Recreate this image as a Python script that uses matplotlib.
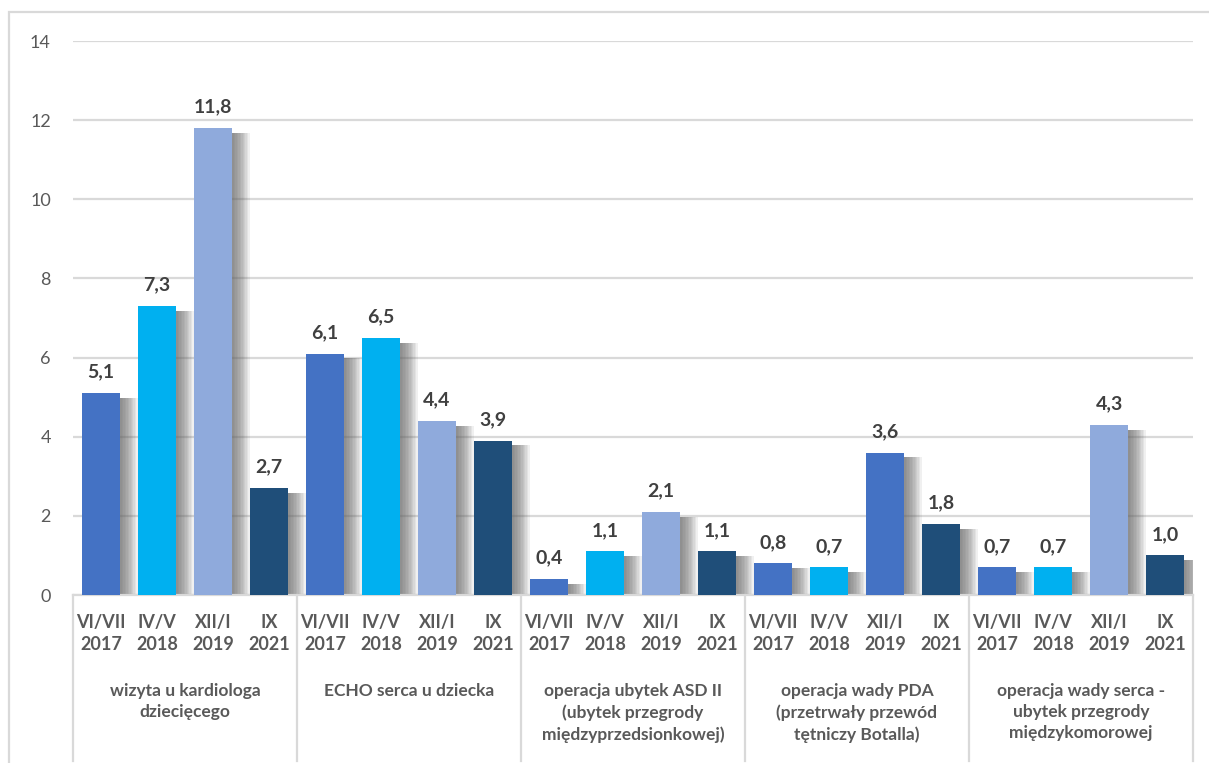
import matplotlib
matplotlib.use("Agg")
import matplotlib.pyplot as plt
from matplotlib.patches import Rectangle
from matplotlib.lines import Line2D
import matplotlib.transforms as mtransforms
import numpy as np

plt.rcParams["font.family"] = ["Lato", "DejaVu Sans"]

# survey waves (x tick labels inside each group)
waves = ["VI/VII\n2017", "IV/V\n2018", "XII/I\n2019", "IX\n2021"]

groups = [
    "wizyta u kardiologa\ndziecięcego",
    "ECHO serca u dziecka",
    "operacja ubytek ASD II\n(ubytek przegrody\nmiędzyprzedsionkowej)",
    "operacja wady PDA\n(przetrwały przewód\ntętniczy Botalla)",
    "operacja wady serca -\nubytek przegrody\nmiędzykomorowej",
]

values = [
    [5.1, 7.3, 11.8, 2.7],
    [6.1, 6.5, 4.4, 3.9],
    [0.4, 1.1, 2.1, 1.1],
    [0.8, 0.7, 3.6, 1.8],
    [0.7, 0.7, 4.3, 1.0],
]

C1, C2, C3, C4 = "#4472C4", "#00B0F0", "#8FAADC", "#1F4E79"
bar_colors = [
    [C1, C2, C3, C4],
    [C1, C2, C3, C4],
    [C1, C2, C3, C4],
    [C1, C2, C1, C4],
    [C1, C2, C3, C4],
]

TXT = "#404040"
AX_TXT = "#595959"
GRID = "#D9D9D9"

W, H = 1209, 763
fig = plt.figure(figsize=(W / 100, H / 100), dpi=100)
ax = fig.add_axes([73 / W, 1 - 595 / H, (1193 - 73) / W, (595 - 41) / H])

n_w = len(waves)
width = 0.67
xs, vals, cols, ticklabels = [], [], [], []
for g, (gv, gc) in enumerate(zip(values, bar_colors)):
    for i, (v, c) in enumerate(zip(gv, gc)):
        xs.append(g * n_w + i)
        vals.append(v)
        cols.append(c)
        ticklabels.append(waves[i])
xs = np.array(xs, dtype=float)
vals = np.array(vals)

# soft drop shadow behind each bar
for off in np.linspace(0.04, 0.32, 12):
    ax.bar(xs + off, vals - 0.12, width=width, color="#606060",
           alpha=0.09, linewidth=0, zorder=2)

ax.bar(xs, vals, width=width, color=cols, linewidth=0, zorder=3)

for x, v in zip(xs, vals):
    ax.annotate(f"{v:.1f}".replace(".", ","), (x, v), xytext=(0, 9),
                textcoords="offset points", ha="center", va="bottom",
                fontsize=14, fontweight="bold", color=TXT)

ax.set_xlim(-0.5, len(xs) - 0.5)
ax.set_ylim(0, 14)
ax.set_yticks(range(0, 15, 2))
ax.set_xticks(xs)
ax.set_xticklabels(ticklabels, fontsize=13, fontweight="bold", color=AX_TXT,
                   linespacing=1.35)
ax.tick_params(axis="x", length=0, pad=14)
ax.tick_params(axis="y", length=0, pad=16, labelsize=13, labelcolor=AX_TXT)
ax.grid(True, axis="y", color=GRID, linewidth=1.6, zorder=0)
ax.set_axisbelow(True)
for s in ["left", "right", "top"]:
    ax.spines[s].set_visible(False)
ax.spines["bottom"].set_color(GRID)
ax.spines["bottom"].set_linewidth(1.6)

# group separators running down through the category labels
trans = mtransforms.blended_transform_factory(ax.transData, ax.transAxes)
for g in range(len(groups) + 1):
    xsep = g * n_w - 0.5
    ax.add_line(Line2D([xsep, xsep], [0, -0.3], transform=trans, color=GRID,
                       linewidth=1.6, clip_on=False))

for g, name in enumerate(groups):
    ax.text(g * n_w + (n_w - 1) / 2, -0.158, name, transform=trans,
            ha="center", va="top", fontsize=12.5, fontweight="bold",
            color=AX_TXT, linespacing=1.4)

# outer chart frame
fig.add_artist(Rectangle((9 / W, -0.1), 1.2, 1.1 - 12 / H,
                         transform=fig.transFigure, fill=False,
                         edgecolor=GRID, linewidth=1.6))

fig.savefig("out.png", dpi=100, facecolor="white")
